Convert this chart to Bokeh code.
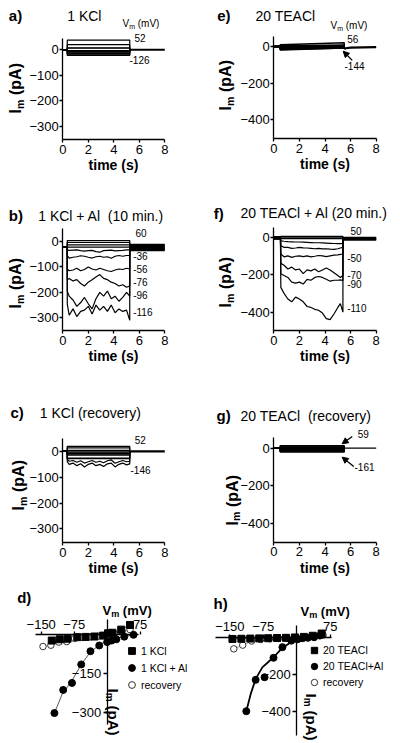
import math
from bokeh.plotting import figure
from bokeh.layouts import column, row
from bokeh.models import FixedTicker, Label, Arrow, NormalHead, Legend, LegendItem, LinearAxis
from bokeh.embed import file_html
from bokeh.resources import INLINE

FONT = "Liberation Sans"

# ------------------------------------------------------------------ data
TIME_TICKS = [0, 2, 4, 6, 8]
KCL_TICKS = [-300, -200, -100, 0]
TEA_TICKS = [-400, -200, 0]
IV_X_TICKS = [-150, -75, 75]
IV_D_Y_TICKS = [-300, -150]
IV_H_Y_TICKS = [-400, -200]

# a) 1 KCl : step currents (pA) at each test voltage (mV)
KCL_V = [-126, -108, -90, -68, -49, -29, -9, 2, 12, 32, 52]
KCL_I = [-22, -17, -15, -9, -8, -6.5, -3, 6, 8, 20, 38]
A_T_ON, A_T_OFF = 0.35, 5.25

# e) 20 TEACl : start / end current of each sweep
TEA_V = [-144, -124, -104, -84, -64, -44, -24, -4, 16, 36, 56]
TEA_I_START = [-20, -17, -14, -12, -10, -8, -6, -3, 0, 4, 9]
TEA_I_END = [-9, -8, -7, -6, -5, -4, -3, -1, 2, 8, 20]
E_T_ON, E_T_OFF = 0.5, 5.5
E_TAIL_T = [5.5, 5.6, 6.0, 7.0, 8.0]
E_TAIL_I = [-14, -10, -7, -5, -4]

# b) 1 KCl + Al (10 min.)
B_T_ON, B_HOLD = 0.35, -22
B_T = [0.35, 0.5, 0.8, 1.1, 1.4, 1.7, 2.0, 2.3, 2.6, 2.9, 3.2, 3.5, 3.8, 4.1, 4.4, 4.7, 5.0, 5.25]
B_FLAT_V = [60, 40, 20, 0]
B_FLAT_I = [4, -3, -13, -22]
B_M16 = [-33, -35, -34, -33, -36, -38, -36, -35, -40, -42, -36, -35, -34, -37, -36, -35, -33, -33]
B_M36 = [-55, -65, -62, -60, -56, -58, -62, -65, -60, -58, -62, -60, -66, -58, -55, -58, -55, -55]
B_M56 = [-108, -115, -112, -105, -115, -110, -100, -108, -112, -105, -110, -115, -118, -112, -108, -110, -105, -108]
B_M76 = [-150, -145, -155, -150, -165, -175, -160, -150, -140, -130, -145, -150, -160, -165, -175, -170, -180, -175]
B_M96 = [-195, -215, -230, -255, -240, -220, -245, -265, -225, -200, -215, -195, -225, -215, -235, -220, -200, -215]
B_M116 = [-245, -290, -265, -295, -275, -270, -255, -285, -250, -270, -255, -275, -250, -280, -265, -275, -270, -310]
B_TAIL_I = [-14, -19, -24, -29, -34]

# f) 20 TEACl + Al (20 min.)
F_T_ON, F_HOLD = 0.52, -8
F_T = [0.55, 0.8, 1.1, 1.4, 1.7, 2.0, 2.3, 2.6, 2.9, 3.2, 3.5, 3.8, 4.1, 4.4, 4.7, 5.0, 5.2, 5.4]
F_FLAT_V = [50, 30, 10]
F_FLAT_I = [4, 0, -8]
F_M10 = [-20, -22, -24, -25, -26, -26, -27, -28, -29, -30, -30, -31, -32, -33, -34, -35, -35, -33]
F_M30 = [-45, -55, -55, -60, -58, -55, -57, -58, -60, -62, -60, -63, -62, -64, -65, -62, -58, -55]
F_M50 = [-90, -105, -100, -108, -102, -100, -104, -100, -105, -102, -98, -100, -104, -100, -96, -95, -92, -90]
F_M70 = [-140, -150, -170, -160, -175, -170, -195, -175, -180, -170, -185, -175, -165, -175, -190, -205, -215, -205]
F_M90 = [-195, -205, -215, -240, -245, -240, -250, -225, -230, -215, -210, -215, -225, -235, -230, -230, -228, -232]
F_M110 = [-268, -300, -330, -345, -320, -330, -345, -370, -375, -385, -390, -405, -435, -440, -410, -375, -355, -400]
F_TAIL_I = [-5, -9, -13]

# c) 1 KCl (recovery)
REC_V = [-146, -128, -110, -92, -74, -56, -38, -20, -2, 16, 34, 52]
REC_I = [-45, -40, -28, -26, -14, -10, -8, -5, -2, 4, 14, 20]
C_T_ON, C_T_OFF = 0.35, 5.25
C_T = [0.35, 0.5, 0.8, 1.1, 1.4, 1.7, 2.0, 2.3, 2.6, 2.9, 3.2, 3.5, 3.8, 4.1, 4.4, 4.7, 5.0, 5.25]
C_M146 = [-40, -50, -45, -55, -48, -60, -50, -45, -55, -50, -58, -48, -45, -60, -50, -45, -52, -48]
C_M128 = [-30, -38, -35, -42, -36, -45, -40, -35, -42, -38, -44, -36, -33, -46, -40, -35, -40, -38]

# g) 20 TEACl (recovery)
G_T_ON, G_T_OFF = 0.5, 5.5
G_I = [-20, -16, -12, -9, -6, -4, -2, 0, 3, 6, 12]

# d) I-V, 1 KCl
AL_V = [-120, -100, -80, -59, -38, -18, 0, 10, 21, 39, 60]
AL_I = [-301, -212, -185, -114, -63, -41, -28, -22, -17, -7, 0]
D_FIT_V = [-120, -102, -80, -59, -38, -15, 8, 38, 60]
D_FIT_I = [-301, -227, -176, -114, -66, -35, -19, -7, 0]

# h) I-V, 20 TEACl
TAL_V = [-113, -92, -72, -52, -32, -12, 2, 13, 25, 39, 52]
TAL_I = [-396, -228, -214, -110, -53, -18, -11, -5, -3, 0, 9]
H_FIT_V = [-113, -103, -92, -77, -52, -32, -13, 9, 39, 53]
H_FIT_I = [-396, -303, -223, -161, -107, -57, -27, -9, 0, 7]
TREC_V = [-141, -121, -101, -81, -61, -41, -21, -1, 19, 39, 59]
TREC_I = [-62, -42, -20, -12, -8, -6, -4, -2, 0, 3, 12]


# ------------------------------------------------------------------ helpers
def new_fig(fig_box, inner_box, xdata, ydata):
    """Figure whose frame fills the whole box; the data extent xdata/ydata
    is mapped onto inner_box (page pixels)."""
    fl, ft, fr, fb = fig_box
    L, T, R, B = inner_box
    x0, x1 = xdata
    y0, y1 = ydata
    sx = (x1 - x0) / (R - L)
    sy = (y1 - y0) / (B - T)
    xr = (x0 - (L - fl) * sx, x1 + (fr - R) * sx)
    yr = (y0 - (fb - B) * sy, y1 + (T - ft) * sy)
    p = figure(width=fr - fl, height=fb - ft, x_range=xr, y_range=yr,
               output_backend="svg", toolbar_location=None,
               min_border_left=0, min_border_right=0,
               min_border_top=0, min_border_bottom=0)
    p.outline_line_color = None
    p.xgrid.visible = False
    p.ygrid.visible = False
    return p


def style_axis(ax, ticks, tick_out=3, standoff=2):
    ax.ticker = FixedTicker(ticks=ticks)
    ax.axis_line_color = "black"
    ax.axis_line_width = 1.3
    ax.major_tick_line_color = "black"
    ax.major_tick_line_width = 1.3
    ax.major_tick_in = 0
    ax.major_tick_out = tick_out
    ax.minor_tick_line_color = None
    ax.major_label_text_font = FONT
    ax.major_label_text_font_size = "13px"
    ax.major_label_text_color = "black"
    ax.major_label_standoff = standoff


def time_fig(fig_box, inner_box, ydata, yticks):
    xdata = (TIME_TICKS[0], TIME_TICKS[-1])
    p = new_fig(fig_box, inner_box, xdata, ydata)
    xa, ya = p.xaxis[0], p.yaxis[0]
    style_axis(xa, TIME_TICKS)
    style_axis(ya, yticks, tick_out=3, standoff=1)
    xa.fixed_location = ydata[0]
    xa.bounds = xdata
    ya.fixed_location = xdata[0]
    ya.bounds = ydata
    xa.axis_label = "time (s)"
    xa.axis_label_text_font = FONT
    xa.axis_label_text_font_size = "14px"
    xa.axis_label_text_font_style = "bold"
    xa.axis_label_text_color = "black"
    xa.axis_label_standoff = 0
    return p


def put(p, fr, px, py, text, size, bold=False, angle=0.0, align="left", baseline="middle"):
    fl, fb = fr
    p.add_layout(Label(x=px - fl, y=fb - py, x_units="screen", y_units="screen",
                       text=text, text_font=FONT, text_font_size=f"{size}px",
                       text_font_style="bold" if bold else "normal",
                       angle=angle, text_align=align, text_baseline=baseline,
                       text_color="black"))


def im_up(p, fr, x, yb):
    put(p, fr, x, yb, "I", 16, True, math.pi / 2)
    put(p, fr, x + 4, yb - 4.6, "m", 10.5, True, math.pi / 2)
    put(p, fr, x, yb - 18.5, "(pA)", 16, True, math.pi / 2)


def im_down(p, fr, x, yt):
    put(p, fr, x, yt, "I", 15, True, -math.pi / 2)
    put(p, fr, x - 4, yt + 4.3, "m", 10, True, -math.pi / 2)
    put(p, fr, x, yt + 17, "(pA)", 15, True, -math.pi / 2)


def vm(p, fr, x, y, size, bold):
    put(p, fr, x, y, "V", size, bold)
    msz = round(size * 0.7, 1)
    put(p, fr, x + 0.667 * size, y + size * 0.28, "m", msz, bold)
    mw = (0.889 if bold else 0.833) * msz
    put(p, fr, x + 0.667 * size + mw + 0.278 * size, y, "(mV)", size, bold)


def step_lines(t_on, t_off, levels, hold=0.0, after=0.0):
    xs, ys = [], []
    for lv in levels:
        xs.append([0, t_on, t_on, t_off, t_off])
        ys.append([hold, hold, lv, lv, after])
    return xs, ys


def noisy_line(t, vals, hold, after, t_on):
    return [0, t_on] + list(t) + [t[-1]], [hold, hold] + list(vals) + [after]


def arrow(p, xs0, ys0, xe, ye):
    p.add_layout(Arrow(end=NormalHead(size=6, fill_color="black", line_color="black"),
                       x_start=xs0, y_start=ys0, x_end=xe, y_end=ye,
                       line_color="black", line_width=1.3))


LW = 1.2
TEND = TIME_TICKS[-1]
GAP = "\u00a0 "  # wide gap as in the original titles

# ------------------------------------------------------------------ a)
FA = (0, 190)
pa = time_fig((0, 0, 200, 190), (62.3, 38.3, 164.3, 139.3), (-353, 43), KCL_TICKS)
xs, ys = step_lines(A_T_ON, A_T_OFF, KCL_I)
pa.multi_line(xs, ys, line_color="black", line_width=LW)
pa.line([A_T_OFF, TEND], [0, 0], line_color="black", line_width=2.2)
put(pa, FA, 8.3, 15, "a)", 15, True)
put(pa, FA, 66.7, 15, "1 KCl", 14)
vm(pa, FA, 122, 23, 10, False)
put(pa, FA, 134, 37, "52", 10)
put(pa, FA, 129, 59, "-126", 10)
im_up(pa, FA, 15, 113)

# ------------------------------------------------------------------ e)
FE = (200, 190)
pe = time_fig((200, 0, 400, 190), (273.3, 36, 375.7, 138.3), (-503, 54), TEA_TICKS)
xs = [[0, E_T_ON, E_T_ON, E_T_OFF, E_T_OFF] for _ in TEA_V]
ys = [[0, 0, s, e, E_TAIL_I[0]] for s, e in zip(TEA_I_START, TEA_I_END)]
pe.multi_line(xs, ys, line_color="black", line_width=1.5)
pe.line(E_TAIL_T, E_TAIL_I, line_color="black", line_width=2.2)
put(pe, FE, 216.7, 15, "e)", 15, True)
put(pe, FE, 255, 15, "20 TEACl", 14)
vm(pe, FE, 330, 25, 10, False)
put(pe, FE, 346.7, 38.3, "56", 10)
put(pe, FE, 344, 65.7, "-144", 10)
arrow(pe, 6.13, -76, 5.42, -26)
im_up(pe, FE, 225, 110)

# ------------------------------------------------------------------ b)
FB = (0, 375)
pb = time_fig((0, 190, 200, 375), (62.3, 228.3, 164.3, 330), (-350, 50), KCL_TICKS)
xs, ys = step_lines(B_T_ON, B_T[-1], B_FLAT_I, hold=B_HOLD, after=B_HOLD)
for tr in [B_M16, B_M36, B_M56, B_M76, B_M96, B_M116]:
    x, y = noisy_line(B_T, tr, B_HOLD, B_HOLD, B_T_ON)
    xs.append(x)
    ys.append(y)
pb.multi_line(xs, ys, line_color="black", line_width=LW)
pb.multi_line([[B_T[-1], TEND] for _ in B_TAIL_I], [[v, v] for v in B_TAIL_I],
              line_color="black", line_width=2.4)
put(pb, FB, 8.3, 215, "b)", 15, True)
put(pb, FB, 37.7, 215, "1 KCl + Al" + GAP + "(10 min.)", 14)
for txt, xx, yy in [("60", 135, 232.3), ("-36", 132.7, 255.3), ("-56", 132.7, 268.7),
                    ("-76", 132.7, 281), ("-96", 132.7, 294.3), ("-116", 132.7, 311.7)]:
    put(pb, FB, xx, yy, txt, 10)
im_up(pb, FB, 15, 308)

# ------------------------------------------------------------------ f)
FF = (200, 375)
pf = time_fig((200, 190, 400, 375), (273.3, 226.7, 375.7, 330), (-498, 53), TEA_TICKS)
xs, ys = step_lines(F_T_ON, F_T[-1], F_FLAT_I, hold=F_HOLD, after=F_HOLD)
for tr in [F_M10, F_M30, F_M50, F_M70, F_M90, F_M110]:
    x, y = noisy_line(F_T, tr, F_HOLD, F_HOLD, F_T_ON)
    xs.append(x)
    ys.append(y)
pf.multi_line(xs, ys, line_color="black", line_width=LW)
pf.multi_line([[F_T[-1], TEND] for _ in F_TAIL_I], [[v, v] for v in F_TAIL_I],
              line_color="black", line_width=2.4)
pf.line([0, F_T_ON], [0, 0], line_color="black", line_width=2.2)
put(pf, FF, 213.3, 212.7, "f)", 15, True)
put(pf, FF, 240, 212.7, "20 TEACl + Al (20 min.)", 14)
for txt, xx, yy in [("50", 350, 230.7), ("-50", 346.7, 257.3), ("-70", 346.7, 274),
                    ("-90", 346.7, 283.3), ("-110", 346.7, 307.3)]:
    put(pf, FF, xx, yy, txt, 10)
im_up(pf, FF, 225, 307)

# ------------------------------------------------------------------ c)
FC = (0, 580)
pc = time_fig((0, 375, 200, 580), (62.3, 438.3, 164.3, 542.3), (-354, 49), KCL_TICKS)
xs, ys = step_lines(C_T_ON, C_T_OFF, REC_I[2:])
for tr in [C_M146, C_M128]:
    x, y = noisy_line(C_T, tr, 0, 0, C_T_ON)
    xs.append(x)
    ys.append(y)
pc.multi_line(xs, ys, line_color="black", line_width=LW)
pc.line([C_T_OFF, TEND], [0, 0], line_color="black", line_width=2.2)
put(pc, FC, 10, 412.3, "c)", 15, True)
put(pc, FC, 39.3, 412.3, "1 KCl (recovery)", 14)
put(pc, FC, 134.3, 439.3, "52", 10)
put(pc, FC, 130, 469.3, "-146", 10)
im_up(pc, FC, 18.3, 510)

# ------------------------------------------------------------------ g)
FG = (200, 580)
pg = time_fig((200, 375, 400, 580), (273.3, 437.3, 375.7, 541.7), (-501, 55), TEA_TICKS)
xs, ys = step_lines(G_T_ON, G_T_OFF, G_I)
pg.multi_line(xs, ys, line_color="black", line_width=1.6)
pg.line([0, TEND], [0, 0], line_color="black", line_width=1.3)
put(pg, FG, 216, 415, "g)", 15, True)
put(pg, FG, 240, 415, "20 TEACl" + GAP + "(recovery)", 14)
put(pg, FG, 357.3, 433.3, "59", 10)
put(pg, FG, 354, 466, "-161", 10)
arrow(pg, 6.13, 62, 5.34, 23)
arrow(pg, 6.25, -98, 5.34, -48)
im_up(pg, FG, 231.7, 525)


# ------------------------------------------------------------------ I-V panels
def iv_fig(fig_box, inner_box, xdata, ydata, yticks):
    p = new_fig(fig_box, inner_box, xdata, ydata)
    p.below.remove(p.xaxis[0])
    xa = LinearAxis()
    p.add_layout(xa, "above")
    ya = p.yaxis[0]
    style_axis(xa, IV_X_TICKS, tick_out=3, standoff=3)
    style_axis(ya, yticks, tick_out=4, standoff=2)
    xa.fixed_location = 0
    xa.bounds = xdata
    ya.fixed_location = 0
    ya.bounds = ydata
    return p


def iv_legend(p, renderers, labels, loc, gh):
    leg = Legend(items=[LegendItem(label=l, renderers=[r]) for l, r in zip(labels, renderers)],
                 location=loc, glyph_width=gh, glyph_height=gh, label_height=gh,
                 label_standoff=1, spacing=0, padding=0, margin=0,
                 border_line_color=None, background_fill_alpha=0,
                 label_text_font=FONT, label_text_font_size="10.5px",
                 label_text_color="black")
    p.add_layout(leg)


FD = (0, 743)
pd_ = iv_fig((0, 580, 200, 743), (35, 619, 138.3, 724), (-163, 72), (-345, 59), IV_D_Y_TICKS)
pd_.line(KCL_V, KCL_I, line_color="#444", line_width=0.8)
pd_.line(REC_V, REC_I, line_color="#777", line_width=0.8)
pd_.line(D_FIT_V, D_FIT_I, line_color="#555", line_width=1.0)
r_rec = pd_.scatter(REC_V, REC_I, marker="circle", size=6.5, fill_color="white",
                    line_color="#333", line_width=1)
r_kcl = pd_.scatter(KCL_V, KCL_I, marker="square", size=7, fill_color="black", line_color="black")
r_al = pd_.scatter(AL_V, AL_I, marker="circle", size=7, fill_color="black", line_color="black")
iv_legend(pd_, [r_kcl, r_al, r_rec], ["1 KCl", "1 KCl + Al", "recovery"], (123, 50), 17)
put(pd_, FD, 16.7, 596.7, "d)", 15, True)
vm(pd_, FD, 102, 610, 13, True)
im_down(pd_, FD, 113, 688)

FH = (200, 743)
ph = iv_fig((200, 580, 400, 743), (215, 625, 331, 735), (-182, 78), (-526, 63), IV_H_Y_TICKS)
ph.line(TEA_V, TEA_I_END, line_color="#444", line_width=0.8)
ph.line(TREC_V, TREC_I, line_color="#777", line_width=0.8)
ph.line(H_FIT_V, H_FIT_I, line_color="black", line_width=1.8)
r_trec = ph.scatter(TREC_V, TREC_I, marker="circle", size=6.5, fill_color="white",
                    line_color="#333", line_width=1)
r_tea = ph.scatter(TEA_V, TEA_I_END, marker="square", size=7, fill_color="black", line_color="black")
r_tal = ph.scatter(TAL_V, TAL_I, marker="circle", size=7, fill_color="black", line_color="black")
iv_legend(ph, [r_tea, r_tal, r_trec], ["20 TEACl", "20 TEACl+Al", "recovery"], (106, 53), 16)
put(ph, FH, 213, 603.3, "h)", 15, True)
vm(ph, FH, 300, 610.7, 13, True)
im_down(ph, FH, 311, 693)

layout = column(row(pa, pe), row(pb, pf), row(pc, pg), row(pd_, ph))
open("out.html", "w").write(file_html(layout, INLINE))
